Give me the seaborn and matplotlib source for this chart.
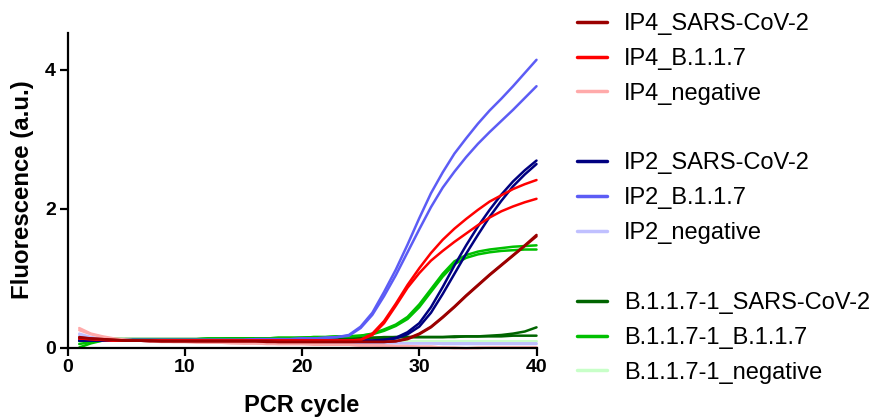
import numpy as np
import pandas as pd
import seaborn as sns
import matplotlib
matplotlib.use("Agg")
import matplotlib.pyplot as plt
from matplotlib.lines import Line2D

sns.set_style("ticks")
plt.rcParams['font.family'] = ['Liberation Sans', 'DejaVu Sans']
plt.rcParams['text.color'] = 'black'
plt.rcParams['xtick.color'] = 'black'
plt.rcParams['ytick.color'] = 'black'
plt.rcParams['axes.labelcolor'] = 'black'

cycles = list(range(1, 41))

# IP4 primer set
ip4_sars_r1 = [0.15, 0.13, 0.12, 0.11, 0.10, 0.10, 0.09, 0.09, 0.09, 0.09,
               0.09, 0.09, 0.09, 0.09, 0.09, 0.09, 0.08, 0.08, 0.08, 0.08,
               0.08, 0.08, 0.08, 0.08, 0.08, 0.08, 0.08, 0.09, 0.13, 0.20,
               0.30, 0.44, 0.59, 0.75, 0.90, 1.05, 1.19, 1.33, 1.47, 1.62]
ip4_sars_r2 = [0.14, 0.13, 0.12, 0.11, 0.10, 0.10, 0.10, 0.09, 0.09, 0.09,
               0.09, 0.09, 0.09, 0.09, 0.09, 0.09, 0.09, 0.08, 0.08, 0.08,
               0.08, 0.08, 0.08, 0.08, 0.08, 0.08, 0.08, 0.09, 0.12, 0.19,
               0.29, 0.43, 0.58, 0.74, 0.89, 1.04, 1.18, 1.32, 1.46, 1.60]
ip4_b117_r1 = [0.13, 0.12, 0.11, 0.10, 0.10, 0.10, 0.10, 0.10, 0.10, 0.10,
               0.10, 0.10, 0.10, 0.10, 0.10, 0.10, 0.10, 0.10, 0.10, 0.10,
               0.10, 0.10, 0.10, 0.10, 0.11, 0.20, 0.38, 0.63, 0.90, 1.14,
               1.36, 1.55, 1.71, 1.85, 1.98, 2.10, 2.19, 2.28, 2.35, 2.41]
ip4_b117_r2 = [0.13, 0.12, 0.11, 0.10, 0.10, 0.10, 0.10, 0.10, 0.10, 0.10,
               0.10, 0.10, 0.10, 0.10, 0.10, 0.10, 0.10, 0.10, 0.10, 0.10,
               0.10, 0.10, 0.10, 0.10, 0.11, 0.18, 0.35, 0.60, 0.86, 1.07,
               1.25, 1.39, 1.52, 1.64, 1.76, 1.87, 1.96, 2.03, 2.09, 2.14]
ip4_neg_r1 = [0.28, 0.20, 0.16, 0.13, 0.11, 0.10, 0.09, 0.09, 0.08, 0.08,
              0.08, 0.07, 0.07, 0.07, 0.06, 0.06, 0.06, 0.05, 0.05, 0.05,
              0.05, 0.04, 0.04, 0.04, 0.03, 0.03, 0.03, 0.02, 0.02, 0.01,
              0.01, 0.00, -0.01, -0.01, 0.00, 0.00, 0.00, 0.00, 0.00, 0.00]
ip4_neg_r2 = [0.25, 0.19, 0.15, 0.12, 0.11, 0.10, 0.09, 0.08, 0.08, 0.08,
              0.07, 0.07, 0.07, 0.06, 0.06, 0.06, 0.05, 0.05, 0.05, 0.05,
              0.04, 0.04, 0.04, 0.04, 0.03, 0.03, 0.02, 0.02, 0.02, 0.01,
              0.01, 0.00, 0.00, -0.01, -0.01, 0.00, 0.00, 0.00, 0.00, 0.00]

# IP2 primer set
ip2_sars_r1 = [0.10, 0.10, 0.10, 0.10, 0.10, 0.10, 0.10, 0.10, 0.10, 0.10,
               0.10, 0.10, 0.10, 0.10, 0.10, 0.10, 0.10, 0.10, 0.10, 0.10,
               0.10, 0.10, 0.10, 0.10, 0.10, 0.10, 0.11, 0.14, 0.22, 0.35,
               0.58, 0.87, 1.18, 1.47, 1.74, 1.98, 2.20, 2.39, 2.55, 2.69]
ip2_sars_r2 = [0.10, 0.10, 0.10, 0.10, 0.10, 0.10, 0.10, 0.10, 0.10, 0.10,
               0.10, 0.10, 0.10, 0.10, 0.10, 0.10, 0.10, 0.10, 0.10, 0.10,
               0.10, 0.10, 0.10, 0.10, 0.10, 0.10, 0.11, 0.13, 0.19, 0.30,
               0.50, 0.77, 1.06, 1.35, 1.62, 1.88, 2.11, 2.32, 2.49, 2.64]
ip2_b117_r1 = [0.12, 0.11, 0.11, 0.11, 0.11, 0.11, 0.11, 0.11, 0.11, 0.11,
               0.11, 0.11, 0.11, 0.11, 0.11, 0.12, 0.12, 0.12, 0.12, 0.13,
               0.13, 0.14, 0.15, 0.18, 0.30, 0.50, 0.80, 1.12, 1.48, 1.86,
               2.22, 2.52, 2.79, 3.01, 3.22, 3.41, 3.58, 3.76, 3.95, 4.14]
ip2_b117_r2 = [0.12, 0.11, 0.11, 0.11, 0.11, 0.11, 0.11, 0.11, 0.11, 0.11,
               0.11, 0.11, 0.11, 0.11, 0.11, 0.12, 0.12, 0.12, 0.12, 0.13,
               0.13, 0.14, 0.15, 0.17, 0.28, 0.47, 0.74, 1.04, 1.37, 1.70,
               2.02, 2.30, 2.53, 2.74, 2.93, 3.10, 3.26, 3.42, 3.59, 3.76]
ip2_neg_r1 = [0.20, 0.15, 0.12, 0.11, 0.10, 0.10, 0.10, 0.09, 0.09, 0.09,
              0.09, 0.09, 0.09, 0.08, 0.08, 0.08, 0.08, 0.08, 0.08, 0.08,
              0.07, 0.07, 0.07, 0.07, 0.07, 0.07, 0.07, 0.07, 0.06, 0.06,
              0.06, 0.06, 0.06, 0.06, 0.06, 0.06, 0.06, 0.06, 0.06, 0.06]
ip2_neg_r2 = [0.18, 0.14, 0.12, 0.11, 0.10, 0.10, 0.09, 0.09, 0.09, 0.09,
              0.09, 0.09, 0.08, 0.08, 0.08, 0.08, 0.08, 0.08, 0.07, 0.07,
              0.07, 0.07, 0.07, 0.07, 0.07, 0.06, 0.06, 0.06, 0.06, 0.06,
              0.06, 0.05, 0.05, 0.05, 0.05, 0.05, 0.05, 0.05, 0.05, 0.05]

# B.1.1.7-1 primer set
b1_sars_r1 = [0.10, 0.11, 0.12, 0.12, 0.12, 0.12, 0.12, 0.12, 0.12, 0.12,
              0.12, 0.12, 0.12, 0.13, 0.13, 0.13, 0.13, 0.13, 0.13, 0.14,
              0.14, 0.14, 0.14, 0.14, 0.14, 0.14, 0.15, 0.15, 0.15, 0.15,
              0.15, 0.15, 0.16, 0.16, 0.16, 0.17, 0.18, 0.20, 0.23, 0.29]
b1_sars_r2 = [0.10, 0.11, 0.12, 0.12, 0.12, 0.12, 0.12, 0.12, 0.12, 0.12,
              0.12, 0.12, 0.12, 0.13, 0.13, 0.13, 0.13, 0.13, 0.13, 0.13,
              0.14, 0.14, 0.14, 0.14, 0.14, 0.14, 0.14, 0.15, 0.15, 0.15,
              0.15, 0.15, 0.15, 0.16, 0.16, 0.16, 0.16, 0.17, 0.17, 0.17]
b1_b117_r1 = [0.00, 0.06, 0.10, 0.12, 0.12, 0.12, 0.12, 0.12, 0.12, 0.12,
              0.12, 0.13, 0.13, 0.13, 0.13, 0.13, 0.13, 0.14, 0.14, 0.14,
              0.15, 0.15, 0.16, 0.16, 0.17, 0.20, 0.26, 0.33, 0.44, 0.62,
              0.84, 1.06, 1.24, 1.33, 1.38, 1.41, 1.43, 1.45, 1.46, 1.47]
b1_b117_r2 = [0.05, 0.08, 0.10, 0.11, 0.12, 0.12, 0.12, 0.12, 0.12, 0.12,
              0.12, 0.13, 0.13, 0.13, 0.13, 0.13, 0.13, 0.14, 0.14, 0.14,
              0.15, 0.15, 0.16, 0.16, 0.17, 0.19, 0.24, 0.31, 0.41, 0.58,
              0.80, 1.02, 1.20, 1.29, 1.34, 1.37, 1.39, 1.40, 1.41, 1.41]
b1_neg_r1 = [0.09, 0.10, 0.11, 0.13, 0.12, 0.11, 0.10, 0.10, 0.10, 0.10,
             0.10, 0.10, 0.10, 0.10, 0.10, 0.10, 0.10, 0.10, 0.10, 0.10,
             0.10, 0.10, 0.10, 0.10, 0.10, 0.10, 0.10, 0.10, 0.09, 0.09,
             0.09, 0.09, 0.09, 0.09, 0.09, 0.09, 0.09, 0.09, 0.09, 0.09]
b1_neg_r2 = [0.08, 0.09, 0.10, 0.12, 0.11, 0.10, 0.10, 0.10, 0.10, 0.10,
             0.10, 0.10, 0.10, 0.10, 0.10, 0.10, 0.10, 0.10, 0.10, 0.10,
             0.10, 0.10, 0.10, 0.10, 0.10, 0.10, 0.09, 0.09, 0.09, 0.09,
             0.09, 0.09, 0.09, 0.09, 0.09, 0.09, 0.09, 0.09, 0.09, 0.09]

curves = {
    "B.1.1.7-1_negative": [b1_neg_r1, b1_neg_r2],
    "B.1.1.7-1_SARS-CoV-2": [b1_sars_r1, b1_sars_r2],
    "B.1.1.7-1_B.1.1.7": [b1_b117_r1, b1_b117_r2],
    "IP2_negative": [ip2_neg_r1, ip2_neg_r2],
    "IP2_B.1.1.7": [ip2_b117_r1, ip2_b117_r2],
    "IP2_SARS-CoV-2": [ip2_sars_r1, ip2_sars_r2],
    "IP4_negative": [ip4_neg_r1, ip4_neg_r2],
    "IP4_B.1.1.7": [ip4_b117_r1, ip4_b117_r2],
    "IP4_SARS-CoV-2": [ip4_sars_r1, ip4_sars_r2],
}

colors = {
    "IP4_SARS-CoV-2": "#9b0000",
    "IP4_B.1.1.7": "#ff0000",
    "IP4_negative": "#ffaaaa",
    "IP2_SARS-CoV-2": "#000080",
    "IP2_B.1.1.7": "#5c5cf5",
    "IP2_negative": "#c0c0ff",
    "B.1.1.7-1_SARS-CoV-2": "#006400",
    "B.1.1.7-1_B.1.1.7": "#00c000",
    "B.1.1.7-1_negative": "#c8ffc8",
}

legend_order = ["IP4_SARS-CoV-2", "IP4_B.1.1.7", "IP4_negative", None,
                "IP2_SARS-CoV-2", "IP2_B.1.1.7", "IP2_negative", None,
                "B.1.1.7-1_SARS-CoV-2", "B.1.1.7-1_B.1.1.7", "B.1.1.7-1_negative"]

rows = []
for name, reps in curves.items():
    for i, vals in enumerate(reps):
        for c, v in zip(cycles, vals):
            rows.append({"sample": name, "rep": i, "cycle": c, "fluor": v})
df = pd.DataFrame(rows)

fig = plt.figure(figsize=(8.74, 4.17), dpi=100)
W, H = 874, 417
ax = fig.add_axes([67.5 / W, (H - 347.5) / H, (536.5 - 67.5) / W, (347.5 - 32.7) / H])

# draw in order so IP4 ends up on top
for name in curves:
    sub = df[df["sample"] == name]
    sns.lineplot(data=sub, x="cycle", y="fluor", units="rep", estimator=None,
                 color=colors[name], lw=1.8, ax=ax, legend=False, clip_on=False)

ax.set_xlim(0, 40)
ax.set_ylim(0, 4.53)
ax.set_xticks([0, 10, 20, 30, 40])
ax.set_yticks([0, 2, 4])
sns.despine(ax=ax)
for s in ["left", "bottom"]:
    ax.spines[s].set_linewidth(1.6)
    ax.spines[s].set_color("black")
ax.tick_params(axis="both", direction="out", length=5.5, width=1.6, color="black",
               labelsize=14, pad=3)
for lab in ax.get_xticklabels() + ax.get_yticklabels():
    lab.set_fontweight("bold")
ax.set_xlabel("PCR cycle", fontsize=17, fontweight="bold", labelpad=13)
ax.set_ylabel("Fluorescence (a.u.)", fontsize=17.3, fontweight="bold", labelpad=8)

handles, labels = [], []
for name in legend_order:
    if name is None:
        handles.append(Line2D([], [], color="none"))
        labels.append(" ")
    else:
        handles.append(Line2D([], [], color=colors[name], lw=2.5))
        labels.append(name)
fig.legend(handles, labels, loc="upper left", bbox_to_anchor=(577 / W, 1 - 13 / H),
           frameon=False, fontsize=17, handlelength=1.27, handletextpad=0.72,
           labelspacing=0.545, borderpad=0, borderaxespad=0)

fig.savefig("out.png", dpi=100, facecolor="white")
